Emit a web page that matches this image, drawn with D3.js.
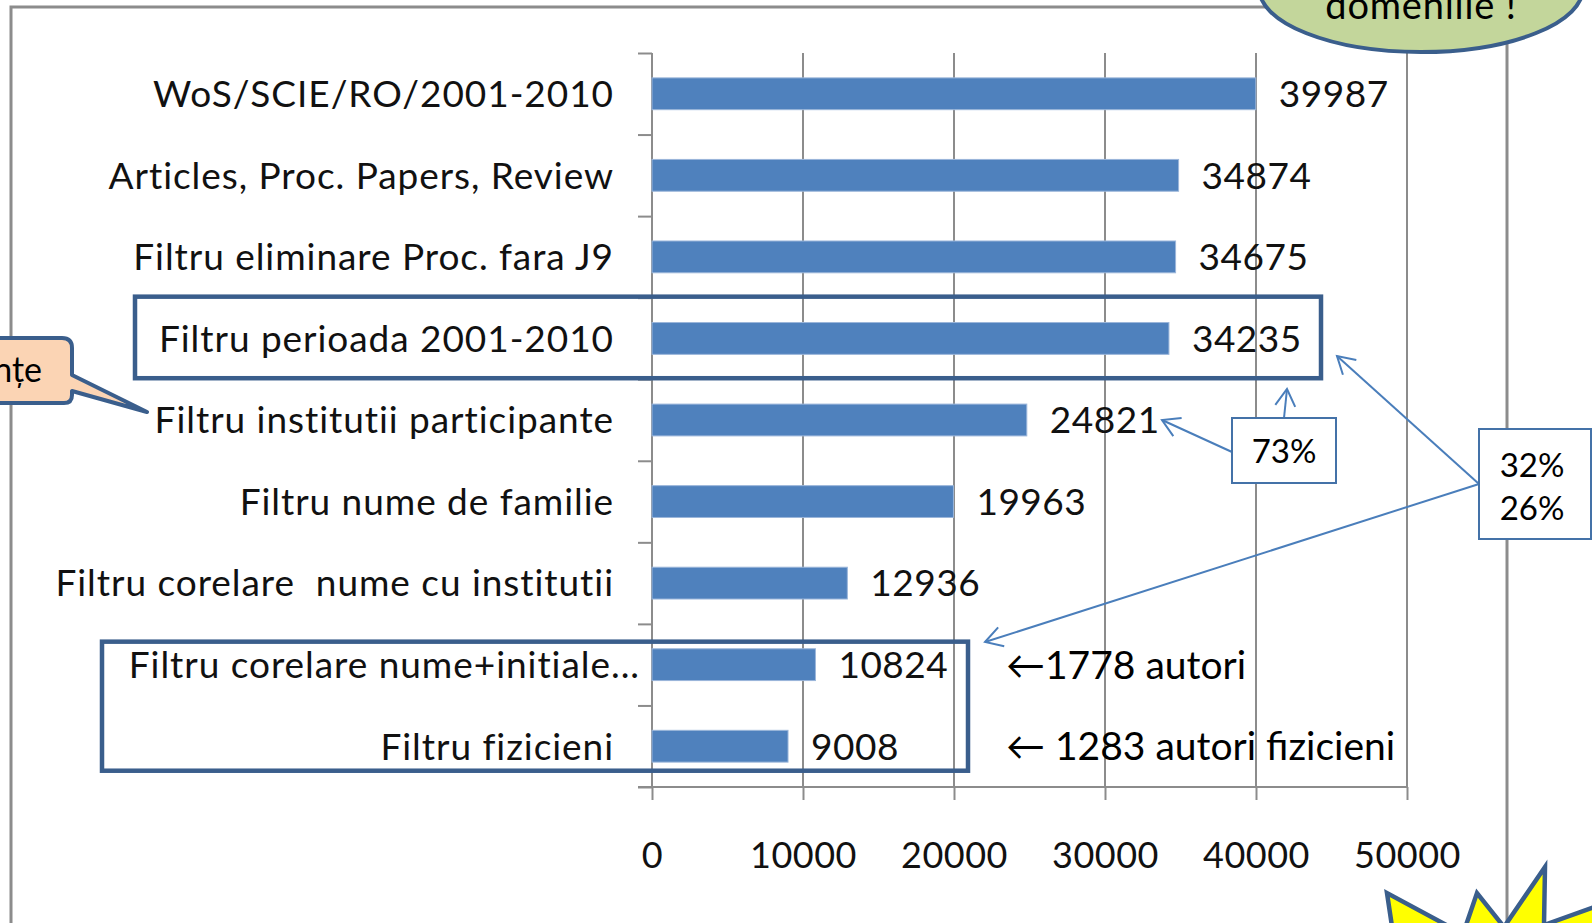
<!DOCTYPE html>
<html><head><meta charset="utf-8">
<script src="https://cdn.jsdelivr.net/npm/d3@7"></script>
<style>
body{margin:0;background:#fff;overflow:hidden}
text{font-family:Lato,"Open Sans",sans-serif}
</style>
</head><body><svg id="c" width="1592" height="923"></svg>
<script>
const categories = ["WoS/SCIE/RO/2001-2010","Articles, Proc. Papers, Review","Filtru eliminare Proc. fara J9","Filtru perioada 2001-2010","Filtru institutii participante","Filtru nume de familie","Filtru corelare  nume cu institutii","Filtru corelare nume+initiale...","Filtru fizicieni"];
const values = [39987,34874,34675,34235,24821,19963,12936,10824,9008];
const xTicks = [0,10000,20000,30000,40000,50000];
const authorNotes = ["\u21901778 autori","\u2190 1283 autori fizicieni"];
const percentNotes = ["73%","32%","26%"];
const bubbleText = "domeniile !";
const calloutText = "nțe";

const svg = d3.select("#c");
const x = d3.scaleLinear().domain([0,50000]).range([652,1407]);
const y = d3.scaleBand().domain(categories).range([53,787]).paddingInner(0.61).paddingOuter(0.305);
const step = y.step();
const yc = c => y(c)+y.bandwidth()/2;
const gridCol="#8c8c8c", boxCol="#3a5e8c", arrCol="#4a7ebb";

// outer frame
svg.append("rect").attr("x",11).attr("y",7).attr("width",1496).attr("height",1000)
  .attr("fill","none").attr("stroke",gridCol).attr("stroke-width",3);

// gridlines
svg.append("g").selectAll("line").data(xTicks.slice(1)).join("line")
  .attr("x1",d=>x(d)).attr("x2",d=>x(d)).attr("y1",53).attr("y2",787)
  .attr("stroke",gridCol).attr("stroke-width",2);

// bottom axis
const xAxis = d3.axisBottom(x).tickValues(xTicks).tickSize(13).tickPadding(42).tickFormat(d3.format("d"));
const gx = svg.append("g").attr("transform","translate(0,787)").call(xAxis);
gx.select(".domain").remove();
gx.selectAll(".tick line").attr("stroke",gridCol).attr("stroke-width",2);
gx.selectAll(".tick text").attr("font-size",36).attr("fill","#111").style("font-family","Lato").attr("letter-spacing",0.5);
svg.append("line").attr("x1",638).attr("x2",1407).attr("y1",787).attr("y2",787).attr("stroke",gridCol).attr("stroke-width",2);

// left axis with ticks between categories
const yb = d3.scaleLinear().domain([0,categories.length]).range([53,787]);
const gy = svg.append("g").attr("transform","translate(652,0)")
  .call(d3.axisLeft(yb).tickValues(d3.range(categories.length+1)).tickSize(14).tickFormat(""));
gy.select(".domain").attr("stroke",gridCol).attr("stroke-width",2).attr("d","M0,53V787");
gy.selectAll(".tick line").attr("stroke",gridCol).attr("stroke-width",2);

// bars
svg.append("g").selectAll("rect").data(values).join("rect")
  .attr("x",x(0)).attr("y",(d,i)=>y(categories[i]))
  .attr("width",d=>x(d)-x(0)).attr("height",y.bandwidth())
  .attr("fill","#4f81bd").attr("stroke","#9bb6da").attr("stroke-width",1);

// category labels
svg.append("g").selectAll("text").data(categories).join("text")
  .attr("x",d=>d.endsWith("...")?640:614).attr("y",d=>yc(d)).attr("dy","0.36em")
  .attr("text-anchor","end").attr("font-size",37).attr("letter-spacing",0.95)
  .style("white-space","pre").attr("fill","#111").text(d=>d);

// value labels
svg.append("g").selectAll("text").data(values).join("text")
  .attr("x",d=>x(d)+23).attr("y",(d,i)=>yc(categories[i])).attr("dy","0.36em")
  .attr("font-size",37).attr("letter-spacing",0.5).attr("fill","#111").text(d=>d);

// highlight boxes
const c3=categories[3];
svg.append("rect").attr("x",135).attr("y",y(c3)-y.paddingInner()*step/2-1).attr("width",1186).attr("height",step)
  .attr("fill","none").attr("stroke",boxCol).attr("stroke-width",4.5);
svg.append("rect").attr("x",102).attr("y",yc(categories[7])-23).attr("width",866).attr("height",yc(categories[8])-yc(categories[7])+47.5)
  .attr("fill","none").attr("stroke",boxCol).attr("stroke-width",4.5);

// author notes
svg.append("g").selectAll("text").data(authorNotes).join("text")
  .attr("x",1006).attr("y",(d,i)=>yc(categories[7+i])).attr("dy","0.36em")
  .attr("font-size",39).attr("fill","#000").text(d=>d);

// arrows
const defs=svg.append("defs");
defs.append("marker").attr("id","ah").attr("markerUnits","userSpaceOnUse")
  .attr("markerWidth",40).attr("markerHeight",40).attr("refX",0).attr("refY",0)
  .attr("viewBox","-20 -20 40 40").attr("orient","auto")
  .append("path").attr("d","M-17,-10L0,0L-17,10").attr("fill","none").attr("stroke",arrCol).attr("stroke-width",2);
const arrows=[[1284,418,1287,389],[1232,452,1162,420],[1479,484,1337,356],[1479,484,985,642]];
svg.append("g").selectAll("line").data(arrows).join("line")
  .attr("x1",d=>d[0]).attr("y1",d=>d[1]).attr("x2",d=>d[2]).attr("y2",d=>d[3])
  .attr("stroke",arrCol).attr("stroke-width",2).attr("marker-end","url(#ah)");

// percent boxes
svg.append("rect").attr("x",1232).attr("y",418).attr("width",104).attr("height",65)
  .attr("fill","#fff").attr("stroke","#4472a8").attr("stroke-width",2);
svg.append("text").attr("x",1284).attr("y",451).attr("dy","0.36em").attr("text-anchor","middle")
  .attr("font-size",33).attr("fill","#000").text(percentNotes[0]);
svg.append("rect").attr("x",1479).attr("y",429).attr("width",112).attr("height",110)
  .attr("fill","#fff").attr("stroke","#4472a8").attr("stroke-width",2);
svg.append("text").attr("x",1532).attr("y",465).attr("dy","0.36em").attr("text-anchor","middle")
  .attr("font-size",33).attr("fill","#000").text(percentNotes[1]);
svg.append("text").attr("x",1532).attr("y",508).attr("dy","0.36em").attr("text-anchor","middle")
  .attr("font-size",33).attr("fill","#000").text(percentNotes[2]);

// bubble top right
svg.append("ellipse").attr("cx",1421).attr("cy",-12).attr("rx",162).attr("ry",64)
  .attr("fill","#c3d69b").attr("stroke",boxCol).attr("stroke-width",4);
svg.append("text").attr("x",1421).attr("y",19).attr("text-anchor","middle")
  .attr("font-size",38).attr("letter-spacing",0.8).attr("fill","#000").text(bubbleText);

// left callout
svg.append("path").attr("d","M-20,338H62Q72,338 72,348V375L147,412L72,391V395Q72,403 64,403H-20Z")
  .attr("fill","#fbd4b4").attr("stroke",boxCol).attr("stroke-width",4).attr("stroke-linejoin","round");
svg.append("text").attr("x",42).attr("y",382).attr("text-anchor","end")
  .attr("font-size",34).attr("fill","#000").text(calloutText);

// star bottom right
svg.append("path").attr("d","M1400,980L1387,893L1463,934L1477,893L1504,927L1545,867L1544,925L1600,905L1620,980Z")
  .attr("fill","#ffff00").attr("stroke",boxCol).attr("stroke-width",4.5).attr("stroke-linejoin","miter");
</script></body></html>
